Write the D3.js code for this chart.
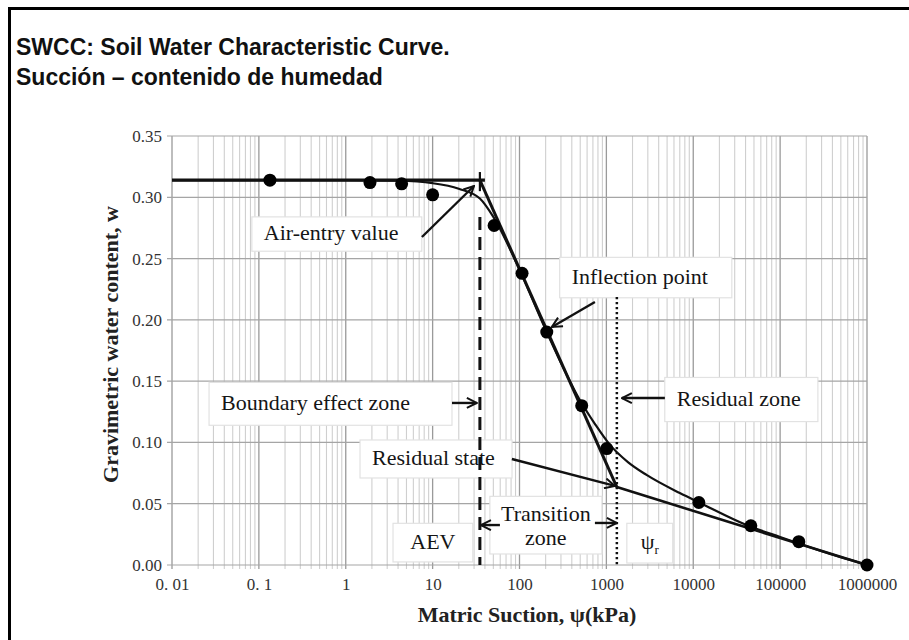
<!DOCTYPE html>
<html>
<head>
<meta charset="utf-8">
<script src="https://cdn.jsdelivr.net/npm/d3@7"></script>
<style>
  html, body { margin: 0; padding: 0; background: #fff; }
  svg { display: block; }
</style>
</head>
<body>
<svg id="chart" width="909" height="640"></svg>
<script>
// Measured SWCC points: matric suction (kPa) and gravimetric water content
const suction = [0.134, 1.9, 4.4, 10, 51, 107, 206, 520, 1010, 11600, 46000, 164000, 1000000];
const waterContent = [0.314, 0.312, 0.311, 0.302, 0.277, 0.238, 0.190, 0.130, 0.095, 0.051, 0.032, 0.019, 0.000];

// Best-fit SWCC through the measurements
const fitSuction = [0.01, 1, 4, 10, 20, 35, 50, 100, 200, 500, 740, 1100, 1770, 2900, 7000, 12000, 41000, 100000, 300000, 1000000];
const fitWater = [0.314, 0.314, 0.3135, 0.3115, 0.307, 0.299, 0.284, 0.241, 0.192, 0.134, 0.115, 0.098, 0.084, 0.0735, 0.0587, 0.0506, 0.0326, 0.0228, 0.0113, 0];

// Graphical construction values
const saturatedWater = 0.314;   // plateau water content
const aevSuction = 35;          // air-entry value (kPa)
const residualSuction = 1320;   // residual suction ψr (kPa)
const residualWater = 0.0636;   // water content at the residual state
const maxSuction = 1000000;     // zero water content at 10^6 kPa

// Axis ticks
const xTickValues = [0.01, 0.1, 1, 10, 100, 1000, 10000, 100000, 1000000];
const xTickLabels = ["0. 01", "0. 1", "1", "10", "100", "1000", "10000", "100000", "1000000"];
const yTickValues = [0, 0.05, 0.10, 0.15, 0.20, 0.25, 0.30, 0.35];

// Text boxes (anchored in data units: suction range and water-content range)
const noteText = [["Air-entry value"], ["Inflection point"], ["Boundary effect zone"], ["Residual zone"], ["Residual state"], ["AEV"], ["Transition", "zone"], ["ψ"]];
const noteX = [[0.083, 7.5], [290, 27800], [0.0267, 16.7], [4700, 272000], [1.46, 82], [3.5, 29], [45.6, 888], [1720, 5800]];
const noteY = [[0.284, 0.256], [0.251, 0.218], [0.149, 0.114], [0.153, 0.117], [0.102, 0.071], [0.034, 0.0025], [0.056, 0.009], [0.034, 0.0016]];

// Pointer arrows: [suction, water] from -> to
const arrowFrom = [[7.53, 0.2676], [738, 0.2146], [16.7, 0.1322], [4712, 0.1362], [81.7, 0.0865], [59.5, 0.0326], [738, 0.0343]];
const arrowTo = [[29.9, 0.3092], [236, 0.1942], [32.3, 0.1322], [1508, 0.1362], [1252, 0.0645], [36, 0.0326], [1321, 0.0343]];

const svg = d3.select("#chart");
const W = 909, H = 640;

const x = d3.scaleLog().domain([0.01, 1000000]).range([172, 867]);
const y = d3.scaleLinear().domain([0, 0.35]).range([565, 136]);

// outer frame
svg.append("rect").attr("x", 9.5).attr("y", 8.5).attr("width", W + 20).attr("height", H + 20)
  .attr("fill", "none").attr("stroke", "#000").attr("stroke-width", 3);

// title
const title = svg.append("text").attr("font-family", "Liberation Sans, Arial, sans-serif")
  .attr("font-weight", "bold").attr("font-size", 23).attr("fill", "#111");
title.append("tspan").attr("x", 16).attr("y", 55).text("SWCC: Soil Water Characteristic Curve.");
title.append("tspan").attr("x", 16).attr("y", 85).text("Succión – contenido de humedad");

// log grid
const gridVals = [];
for (let e = -2; e < 6; e++) {
  for (let m = 1; m < 10; m++) gridVals.push({ v: +(m * Math.pow(10, e)).toPrecision(6), major: m === 1 });
}
gridVals.push({ v: 1000000, major: true });

const grid = svg.append("g");
grid.selectAll("line.v").data(gridVals).join("line")
  .attr("x1", d => x(d.v)).attr("x2", d => x(d.v))
  .attr("y1", y(0.35)).attr("y2", y(0) + 4)
  .attr("stroke", d => d.major ? "#9a9a9a" : "#cfcfcf")
  .attr("stroke-width", d => d.major ? 1.3 : 1.1);
grid.selectAll("line.h").data(yTickValues).join("line")
  .attr("x1", x(0.01) - 5).attr("x2", x(1000000))
  .attr("y1", d => y(d)).attr("y2", d => y(d))
  .attr("stroke", "#a5a5a5").attr("stroke-width", 1.2);

// axes
const yAxis = d3.axisLeft(y).tickValues(yTickValues).tickFormat(d3.format(".2f")).tickSize(0).tickPadding(10);
svg.append("g").attr("transform", `translate(${x(0.01)},0)`).call(yAxis)
  .call(g => g.select(".domain").remove())
  .selectAll("text").attr("font-family", "Liberation Serif, serif").attr("font-size", 17).attr("fill", "#333");

const xAxis = d3.axisBottom(x).tickValues(xTickValues).tickFormat((d, i) => xTickLabels[i]).tickSize(0).tickPadding(13);
svg.append("g").attr("transform", `translate(0,${y(0)})`).call(xAxis)
  .call(g => g.select(".domain").remove())
  .selectAll("text").attr("font-family", "Liberation Serif, serif").attr("font-size", 17).attr("fill", "#333");

// axis titles
svg.append("text").attr("transform", `translate(118,${(y(0) + y(0.35)) / 2 - 6}) rotate(-90)`)
  .attr("text-anchor", "middle").attr("font-family", "Liberation Serif, serif")
  .attr("font-weight", "bold").attr("font-size", 22).attr("fill", "#222")
  .text("Gravimetric water content, w");
svg.append("text").attr("x", 527).attr("y", 622)
  .attr("text-anchor", "middle").attr("font-family", "Liberation Serif, serif")
  .attr("font-weight", "bold").attr("font-size", 22).attr("fill", "#222")
  .text("Matric Suction, ψ(kPa)");

// text boxes
const notes = noteText.map((t, i) => ({ t, xr: noteX[i], yr: noteY[i], i }));
const noteG = svg.append("g").selectAll("g").data(notes).join("g");
noteG.append("rect")
  .attr("x", d => x(d.xr[0])).attr("y", d => y(d.yr[0]))
  .attr("width", d => x(d.xr[1]) - x(d.xr[0])).attr("height", d => y(d.yr[1]) - y(d.yr[0]))
  .attr("fill", "#fff").attr("stroke", "#e2e2e2").attr("stroke-width", 1.2);
noteG.each(function (d) {
  const g = d3.select(this);
  const x0 = x(d.xr[0]), x1 = x(d.xr[1]);
  const yt = y(d.yr[0]), yb = y(d.yr[1]);
  const centred = d.t.length > 1 || d.t[0] === "AEV" || d.t[0] === "ψ";
  const txt = g.append("text").attr("font-family", "Liberation Serif, serif")
    .attr("font-size", 22).attr("fill", "#151515")
    .attr("text-anchor", centred ? "middle" : "start");
  const tx = centred ? (x0 + x1) / 2 : x0 + 12;
  if (d.t.length === 1) {
    txt.append("tspan").attr("x", tx).attr("y", (yt + yb) / 2).attr("dy", "0.28em").text(d.t[0]);
    if (d.t[0] === "ψ") {
      txt.append("tspan").attr("font-size", 13).attr("dy", "0.35em").text("r");
    }
  } else {
    const mid = (yt + yb) / 2;
    txt.append("tspan").attr("x", tx).attr("y", mid - 4).text(d.t[0]);
    txt.append("tspan").attr("x", tx).attr("y", mid + 20).text(d.t[1]);
  }
});

// construction lines
const lineGen = d3.line().x(d => x(d[0])).y(d => y(d[1]));

// AEV dashed vertical
svg.append("line").attr("x1", x(aevSuction)).attr("x2", x(aevSuction))
  .attr("y1", y(0.284)).attr("y2", y(0))
  .attr("stroke", "#111").attr("stroke-width", 3).attr("stroke-dasharray", "13,7");
// ψr dotted vertical
svg.append("line").attr("x1", x(residualSuction)).attr("x2", x(residualSuction))
  .attr("y1", y(0.2186)).attr("y2", y(0))
  .attr("stroke", "#111").attr("stroke-width", 2.5).attr("stroke-dasharray", "2.2,2.8");

// fitted curve
svg.append("path").datum(fitSuction.map((s, i) => [s, fitWater[i]]))
  .attr("d", d3.line().x(d => x(d[0])).y(d => y(d[1])).curve(d3.curveMonotoneX))
  .attr("fill", "none").attr("stroke", "#111").attr("stroke-width", 2.2);

// saturation plateau
svg.append("path").datum([[0.01, saturatedWater], [40, saturatedWater]])
  .attr("d", lineGen).attr("fill", "none").attr("stroke", "#111").attr("stroke-width", 3.4);
// tick marking the air-entry intersection
svg.append("path").datum([[aevSuction, 0.3206], [aevSuction, 0.305]])
  .attr("d", lineGen).attr("fill", "none").attr("stroke", "#111").attr("stroke-width", 2.2);
// desaturation tangent
svg.append("path").datum([[aevSuction, saturatedWater], [residualSuction, residualWater]])
  .attr("d", lineGen).attr("fill", "none").attr("stroke", "#111").attr("stroke-width", 3);
// residual tangent
svg.append("path").datum([[residualSuction, residualWater], [maxSuction, 0]])
  .attr("d", lineGen).attr("fill", "none").attr("stroke", "#111").attr("stroke-width", 2.6);

// arrows
const defs = svg.append("defs");
defs.append("marker").attr("id", "head").attr("viewBox", "0 0 12 12")
  .attr("refX", 11).attr("refY", 6).attr("markerWidth", 12).attr("markerHeight", 12)
  .attr("markerUnits", "userSpaceOnUse").attr("orient", "auto")
  .append("path").attr("d", "M1,1 L11,6 L1,11").attr("fill", "none")
  .attr("stroke", "#111").attr("stroke-width", 2);
svg.append("g").selectAll("line").data(arrowFrom.map((f, i) => [f, arrowTo[i]])).join("line")
  .attr("x1", d => x(d[0][0])).attr("y1", d => y(d[0][1]))
  .attr("x2", d => x(d[1][0])).attr("y2", d => y(d[1][1]))
  .attr("stroke", "#111").attr("stroke-width", 2.4).attr("marker-end", "url(#head)");

// measured points
svg.append("g").selectAll("circle").data(suction.map((s, i) => [s, waterContent[i]])).join("circle")
  .attr("cx", d => x(d[0])).attr("cy", d => y(d[1])).attr("r", 6.5).attr("fill", "#000");
</script>
</body>
</html>
